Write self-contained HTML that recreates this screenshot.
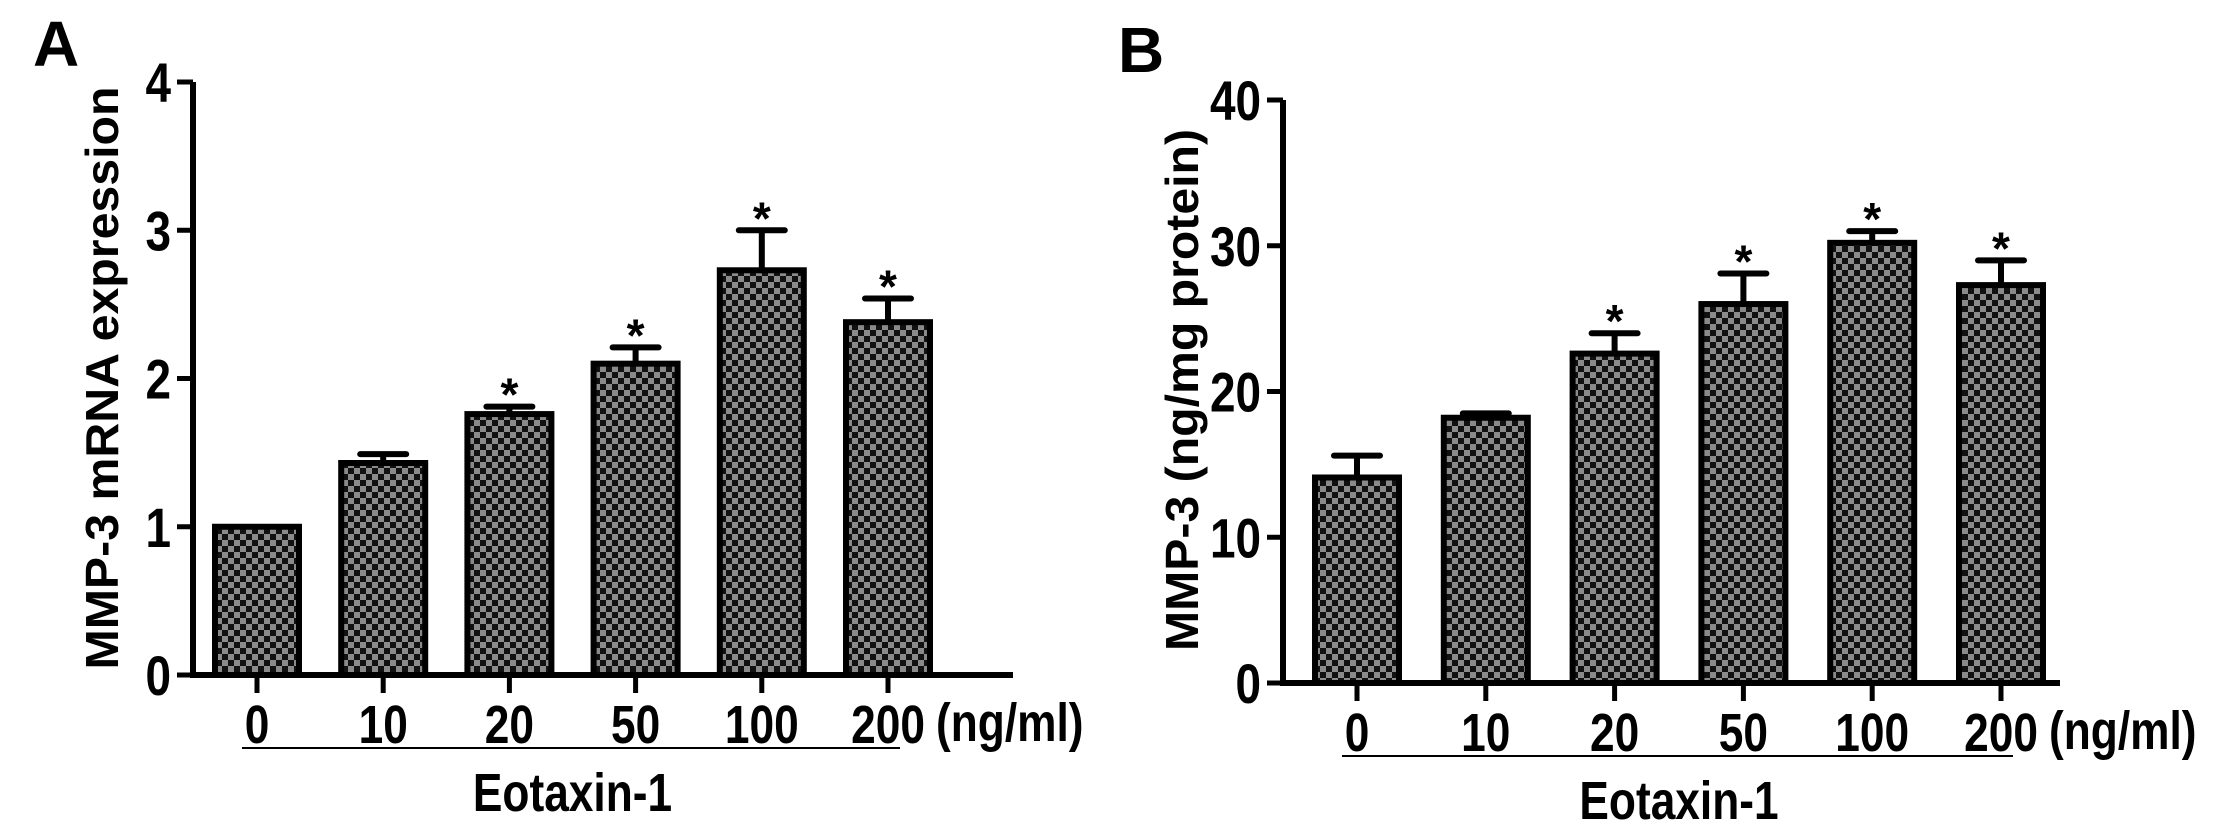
<!DOCTYPE html>
<html><head><meta charset="utf-8"><style>
html,body{margin:0;padding:0;background:#fff;}
svg text{font-family:"Liberation Sans Narrow","Liberation Sans",sans-serif;font-weight:bold;fill:#000;}
</style></head><body>
<svg id="fig" width="2228" height="831" viewBox="0 0 2228 831" xmlns="http://www.w3.org/2000/svg">
<defs>
<pattern id="chk" width="12" height="12" patternUnits="userSpaceOnUse">
<rect width="12" height="12" fill="#8a8a8a"/>
<rect x="0" y="0" width="6" height="6" fill="#111"/>
<rect x="6" y="6" width="6" height="6" fill="#111"/>
</pattern>
</defs>
</svg>
<script>
const categories = ["0","10","20","50","100","200"];
const valuesA = [1.0, 1.43, 1.76, 2.10, 2.73, 2.38];
const errA = [0, 0.06, 0.05, 0.11, 0.27, 0.16];
const sigA = [false,false,true,true,true,true];
const ticksA = [0,1,2,3,4];
const valuesB = [14.1, 18.2, 22.6, 26.0, 30.2, 27.3];
const errB = [1.5, 0.3, 1.4, 2.1, 0.8, 1.7];
const sigB = [false,false,true,true,true,true];
const ticksB = [0,10,20,30,40];

const svg = document.getElementById('fig');
const NS = 'http://www.w3.org/2000/svg';
function mk(tag, attrs, parent){
  const e = document.createElementNS(NS, tag);
  for (const k in attrs) e.setAttribute(k, attrs[k]);
  (parent||svg).appendChild(e); return e;
}
function ctext(parent, x, y, size, anchor, str, sx){
  const t = mk('text', {x: 0, y: 0, 'font-size': size, 'text-anchor': anchor, transform: `translate(${x},${y}) scale(${sx||0.82},1)`}, parent);
  t.textContent = str;
  return t;
}

function panel(cfg){
  const g = mk('g', {});
  
  
  const yScale = v => cfg.y0 - (v - cfg.min) / (cfg.max - cfg.min) * (cfg.y0 - cfg.yTop);
  const xScale = i => cfg.x0 + cfg.firstC + i * cfg.step;
  const L = mk('text', {x: cfg.letterX, y: cfg.letterY, 'font-size': 64, 'font-family': 'Liberation Sans, sans-serif'}, g);
  L.textContent = cfg.letter;
  
  
  cfg.values.forEach((v, i) => {
    const cx = xScale(i), w = 84;
    const top = yScale(v);
    const r = mk('rect', {x: cx - w/2, y: top, width: w, height: cfg.y0 - top, fill: 'url(#chk)', stroke: '#000', 'stroke-width': 6}, g);
    
    
    const e = cfg.err[i];
    if (e > 0) {
      const ey = yScale(v + e);
      const eb = mk('path', {d: `M${cx},${top} V${ey} M${cx-23},${ey} H${cx+23}`, stroke: '#000', 'stroke-width': 6, 'stroke-linecap': 'round', fill: 'none'}, g);
      
      
    }
    if (cfg.sig[i]) {
      const st = mk('text', {x: cx, y: yScale(v + e) + 4, 'font-size': 46, 'text-anchor': 'middle', 'font-family': 'Liberation Sans, sans-serif', 'font-weight': 'normal'}, g);
      st.textContent = '*';
      
      
    }
    const xt = mk('line', {x1: cx, x2: cx, y1: cfg.y0, y2: cfg.y0 + 18, stroke: '#000', 'stroke-width': 5}, g);
    
    
    const xl = ctext(g, cx, cfg.y0 + 68, 54, 'middle', categories[i]);
    
    
  });
  const ax = mk('path', {d: `M${cfg.x0},${cfg.yTop} V${cfg.y0} H${cfg.xEnd}`, stroke: '#000', 'stroke-width': 6, fill: 'none'}, g);
  
  
  cfg.ticks.forEach(t => {
    const y = yScale(t);
    const tl = mk('line', {x1: cfg.x0 - 16, x2: cfg.x0, y1: y, y2: y, stroke: '#000', 'stroke-width': 5}, g);
    
    
    const tt = ctext(g, cfg.x0 - 22, y + 20, 56, 'end', String(t));
    
    
  });
  const yt = mk('text', {x: 0, y: 0, 'font-size': 46, 'text-anchor': 'middle', 'font-family': 'Liberation Sans, sans-serif', textLength: cfg.titleLen, lengthAdjust: 'spacingAndGlyphs', transform: `translate(${cfg.titleX},${cfg.titleY}) rotate(-90)`}, g);
  yt.textContent = cfg.title;
  
  
  const un = ctext(g, xScale(5) + 48, cfg.y0 + 66, 54, 'start', '(ng/ml)');
  
  
  const ul = mk('line', {x1: xScale(0) - 15, x2: xScale(5) + 12, y1: cfg.y0 + 73, y2: cfg.y0 + 73, stroke: '#000', 'stroke-width': 2}, g);
  
  
  const xt = ctext(g, (xScale(0) + xScale(5)) / 2, cfg.y0 + 136, 54, 'middle', 'Eotaxin-1');
  
  
}

panel({name:'panel-a-mrna-chart', letter:'A', letterX:33, letterY:66, values:valuesA, err:errA, sig:sigA, ticks:ticksA,
  min:0, max:4, x0:193, y0:675, yTop:82, xEnd:1013, firstC:64, step:126.2,
  title:'MMP-3 mRNA expression', titleX:118, titleY:378, titleLen:583});
panel({name:'panel-b-protein-chart', letter:'B', letterX:1118, letterY:72, values:valuesB, err:errB, sig:sigB, ticks:ticksB,
  min:0, max:40, x0:1283, y0:683, yTop:100, xEnd:2060, firstC:74, step:128.8,
  title:'MMP-3 (ng/mg protein)', titleX:1198, titleY:390, titleLen:522});
</script>
</body></html>
